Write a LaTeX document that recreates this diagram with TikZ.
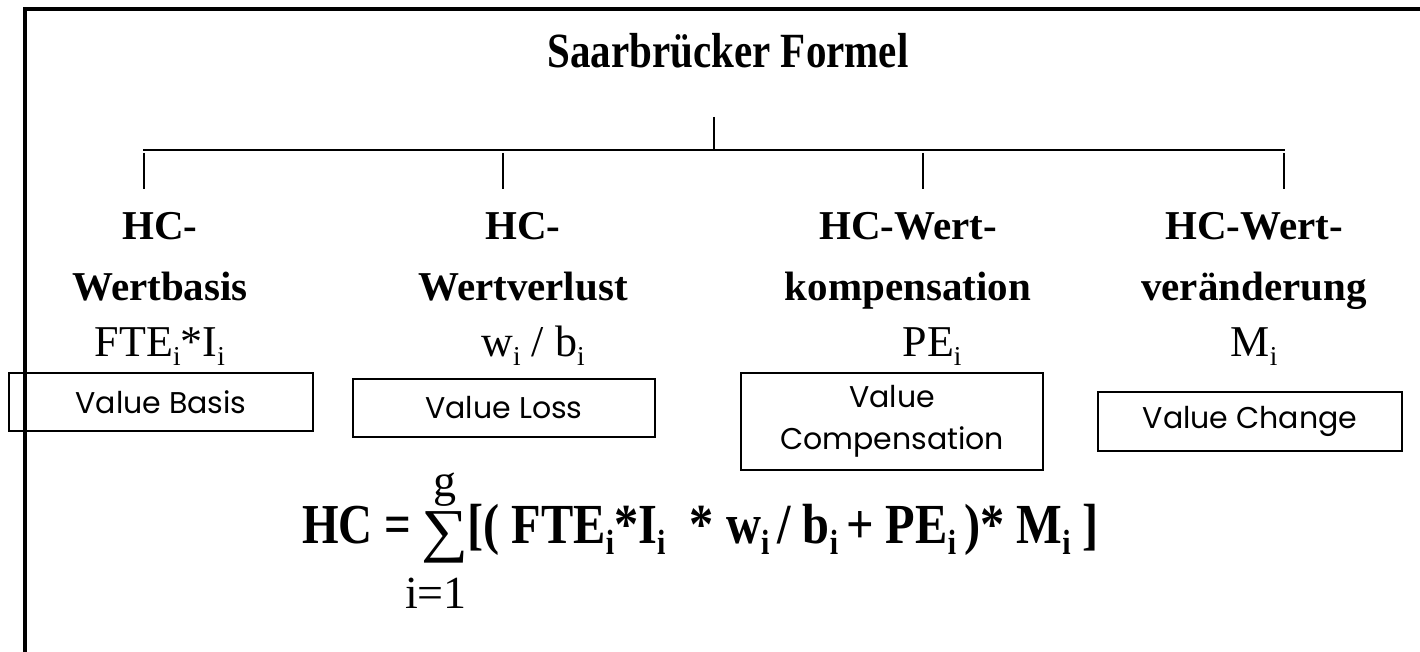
\documentclass[tikz,border=0pt]{standalone}
\usepackage{fontspec}
\setmainfont{Liberation Serif}
\newfontfamily\gothic{Poppins}
\newcommand{\sbi}{\raisebox{-0.2em}{\scalebox{0.62}{i}}}
\begin{document}
\begin{tikzpicture}[x=0.5pt,y=-0.5pt,
  frame/.style={line width=2pt},
  conn/.style={line width=1pt},
  titletxt/.style={font=\bfseries\fontsize{20.5}{24}\selectfont, inner sep=0pt, anchor=base},
  hd/.style={font=\bfseries\fontsize{20.5}{24}\selectfont, inner sep=0pt, anchor=base},
  sym/.style={font=\fontsize{22}{26}\selectfont, inner sep=0pt, anchor=base},
  vbox/.style={draw, line width=0.6pt, inner sep=0pt, align=center,
    font=\gothic\fontsize{15}{18}\selectfont},
  fml/.style={font=\bfseries\fontsize{23.5}{28}\selectfont, inner sep=0pt, anchor=base west},
  lim/.style={font=\fontsize{23}{28}\selectfont, inner sep=0pt, anchor=base}
]
\useasboundingbox (0,0) rectangle (1420,652);
% frame (only top and left edges visible)
\draw[frame] (25,652) -- (25,9) -- (1420,9);

% title
\node[titletxt] (title) at (728,68) {\scalebox{1}[1.2]{Saarbrücker Formel}};

% connectors
\coordinate (hubT) at (714,117);
\coordinate (hubB) at (714,150);
\coordinate (busL) at (143,150);
\coordinate (busR) at (1285,150);
\draw[conn] (hubT) -- (hubB);
\draw[conn] (busL) -- (busR);
\foreach \n/\x in {1/144,2/503,3/923,4/1284}{
  \coordinate (k\n a) at (\x,153);
  \coordinate (k\n b) at (\x,189);
  \draw[conn] (k\n a) -- (k\n b);
}

% column labels
\node[hd] (c1a) at (160,240) {HC-};
\node[hd] (c1b) at (160,301) {Wertbasis};
\node[sym] (c1c) at (160,357) {FTE\sbi*I\sbi};

\node[hd] (c2a) at (523,240) {HC-};
\node[hd] (c2b) at (523,301) {Wertverlust};
\node[sym] (c2c) at (533,357) {w\sbi\ / b\sbi};

\node[hd] (c3a) at (908,240) {HC-Wert-};
\node[hd] (c3b) at (908,301) {kompensation};
\node[sym] (c3c) at (932,357) {PE\sbi};

\node[hd] (c4a) at (1254,240) {HC-Wert-};
\node[hd] (c4b) at (1254,301) {veränderung};
\node[sym] (c4c) at (1254,357) {M\sbi};

% English boxes
\node[vbox, minimum width=152pt, minimum height=29pt] (b1) at (161,402) {Value Basis};
\node[vbox, minimum width=151pt, minimum height=29pt] (b2) at (504,408) {Value Loss};
\node[vbox, minimum width=151pt, minimum height=48.5pt] (b3) at (892,421.5) {Value\\[3pt]Compensation};
\node[vbox, minimum width=152pt, minimum height=29.5pt] (b4) at (1250,421.5) {Value Change};

% formula
\node[fml] (fhc) at (302,543) {\scalebox{1}[1.2]{HC =}};
\node[lim, font=\fontsize{33}{36}\selectfont] (fsig) at (445,550) {\scalebox{1}[0.9]{∑}};
\node[lim] (fg) at (445,496) {g};
\node[lim] (fi) at (436,608) {i=1};
\node[fml, font=\bfseries\fontsize{24.2}{28}\selectfont] (frest) at (467,543) {\scalebox{1}[1.17]{[( FTE\sbi*I\sbi\ \ * w\sbi\,/ b\sbi\,+ PE\sbi\,)* M\sbi\ ]}};
\end{tikzpicture}
\end{document}
